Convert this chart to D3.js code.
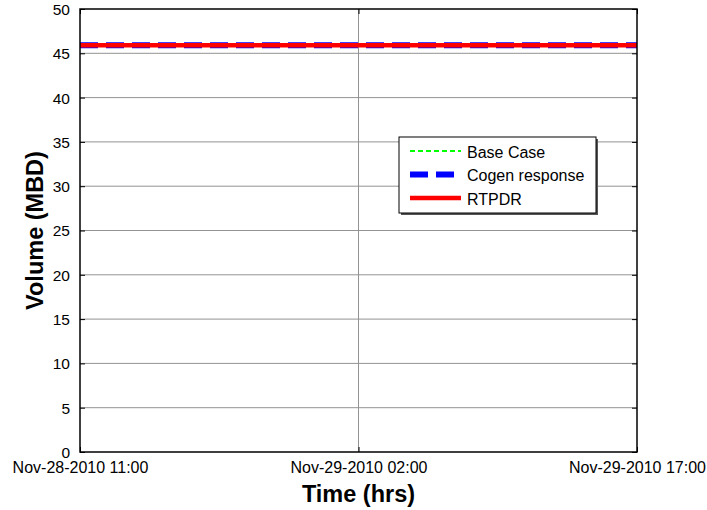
<!DOCTYPE html>
<html>
<head>
<meta charset="utf-8">
<script src="https://cdn.jsdelivr.net/npm/d3@7"></script>
<style>
body { margin: 0; background: #fff; }
svg { font-family: Arial, "Liberation Sans", sans-serif; }
</style>
</head>
<body>
<div id="chart"></div>
<script>
// hourly time stamps, Nov-28-2010 11:00 .. Nov-29-2010 17:00
var times = [
	"2010-11-28 11:00", "2010-11-28 12:00", "2010-11-28 13:00", "2010-11-28 14:00",
	"2010-11-28 15:00", "2010-11-28 16:00", "2010-11-28 17:00", "2010-11-28 18:00",
	"2010-11-28 19:00", "2010-11-28 20:00", "2010-11-28 21:00", "2010-11-28 22:00",
	"2010-11-28 23:00", "2010-11-29 00:00", "2010-11-29 01:00", "2010-11-29 02:00",
	"2010-11-29 03:00", "2010-11-29 04:00", "2010-11-29 05:00", "2010-11-29 06:00",
	"2010-11-29 07:00", "2010-11-29 08:00", "2010-11-29 09:00", "2010-11-29 10:00",
	"2010-11-29 11:00", "2010-11-29 12:00", "2010-11-29 13:00", "2010-11-29 14:00",
	"2010-11-29 15:00", "2010-11-29 16:00", "2010-11-29 17:00"
];

var baseCase = [
	45.9, 45.9, 45.9, 45.9, 45.9, 45.9, 45.9, 45.9, 45.9, 45.9, 45.9,
	45.9, 45.9, 45.9, 45.9, 45.9, 45.9, 45.9, 45.9, 45.9, 45.9, 45.9,
	45.9, 45.9, 45.9, 45.9, 45.9, 45.9, 45.9, 45.9, 45.9
];
var cogenResponse = [
	45.9, 45.9, 45.9, 45.9, 45.9, 45.9, 45.9, 45.9, 45.9, 45.9, 45.9,
	45.9, 45.9, 45.9, 45.9, 45.9, 45.9, 45.9, 45.9, 45.9, 45.9, 45.9,
	45.9, 45.9, 45.9, 45.9, 45.9, 45.9, 45.9, 45.9, 45.9
];
var rtpdr = [
	45.9, 45.9, 45.9, 45.9, 45.9, 45.9, 45.9, 45.9, 45.9, 45.9, 45.9,
	45.9, 45.9, 45.9, 45.9, 45.9, 45.9, 45.9, 45.9, 45.9, 45.9, 45.9,
	45.9, 45.9, 45.9, 45.9, 45.9, 45.9, 45.9, 45.9, 45.9
];

var seriesNames = ["Base Case", "Cogen response", "RTPDR"];
var xTickLabels = ["2010-11-28 11:00", "2010-11-29 02:00", "2010-11-29 17:00"];
var yTicks = [0, 5, 10, 15, 20, 25, 30, 35, 40, 45, 50];

var width = 707, height = 510;
var plot = { left: 80, right: 637, top: 9, bottom: 452 };

var parse = d3.timeParse("%Y-%m-%d %H:%M");
var fmt = d3.timeFormat("%b-%d-%Y %H:%M");

var svg = d3.select("#chart").append("svg")
	.attr("width", width).attr("height", height);

var x = d3.scaleTime()
	.domain([parse(times[0]), parse(times[times.length - 1])])
	.range([plot.left, plot.right]);
var y = d3.scaleLinear().domain([0, 50]).range([plot.bottom, plot.top]);

/* grid */
svg.append("g").selectAll("line").data(yTicks.slice(1, -1)).enter()
	.append("line")
	.attr("x1", plot.left).attr("x2", plot.right)
	.attr("y1", d => y(d)).attr("y2", d => y(d))
	.attr("stroke", "#939393").attr("stroke-width", 1);
svg.append("g").selectAll("line").data(xTickLabels.slice(1, -1)).enter()
	.append("line")
	.attr("x1", d => x(parse(d))).attr("x2", d => x(parse(d)))
	.attr("y1", plot.top).attr("y2", plot.bottom)
	.attr("stroke", "#939393").attr("stroke-width", 1);

/* axes */
var yAxis = d3.axisLeft(y).tickValues(yTicks).tickSize(-5).tickPadding(10);
var yAxisR = d3.axisRight(y).tickValues(yTicks).tickSize(-5).tickFormat("");
var xAxis = d3.axisBottom(x).tickValues(xTickLabels.map(parse)).tickSize(-5)
	.tickPadding(10).tickFormat(fmt);
var xAxisT = d3.axisTop(x).tickValues(xTickLabels.map(parse)).tickSize(-5).tickFormat("");

svg.append("g").attr("transform", "translate(" + plot.left + ",0)").call(yAxis)
	.call(g => g.selectAll("text").attr("font-size", 15.5).attr("fill", "#000").attr("dy", "0.35em"));
svg.append("g").attr("transform", "translate(" + plot.right + ",0)").call(yAxisR);
svg.append("g").attr("transform", "translate(0," + plot.bottom + ")").call(xAxis)
	.call(g => g.selectAll("text").attr("font-size", 16).attr("fill", "#000").attr("dy", "0.71em"));
svg.append("g").attr("transform", "translate(0," + plot.top + ")").call(xAxisT);

svg.selectAll(".domain").attr("stroke", "none");
svg.selectAll(".tick line").attr("stroke", "#000");

/* lines */
var line = d3.line()
	.x((d, i) => x(parse(times[i])))
	.y(d => y(d));

svg.append("path").datum(cogenResponse)
	.attr("d", line).attr("fill", "none")
	.attr("stroke", "#0000ff").attr("stroke-width", 6)
	.attr("stroke-dasharray", "18,8");
svg.append("path").datum(baseCase)
	.attr("d", line).attr("fill", "none")
	.attr("stroke", "#00ff00").attr("stroke-width", 2)
	.attr("stroke-dasharray", "5,3");
svg.append("path").datum(rtpdr)
	.attr("d", line).attr("fill", "none")
	.attr("stroke", "#ff0000").attr("stroke-width", 4.5);

/* box */
svg.append("rect")
	.attr("x", plot.left).attr("y", plot.top)
	.attr("width", plot.right - plot.left).attr("height", plot.bottom - plot.top)
	.attr("fill", "none").attr("stroke", "#000").attr("stroke-width", 1.5);

/* axis titles */
svg.append("text")
	.attr("x", (plot.left + plot.right) / 2).attr("y", 502)
	.attr("text-anchor", "middle")
	.attr("font-size", 23.5).attr("font-weight", "bold")
	.text("Time (hrs)");
svg.append("text")
	.attr("transform", "translate(43," + ((plot.top + plot.bottom) / 2) + ") rotate(-90)")
	.attr("text-anchor", "middle")
	.attr("font-size", 23.5).attr("font-weight", "bold")
	.text("Volume (MBD)");

/* legend */
var lg = svg.append("g").attr("transform", "translate(399,137)");
lg.append("rect").attr("x", 2).attr("y", 2).attr("width", 197).attr("height", 76)
	.attr("fill", "#555");
lg.append("rect").attr("width", 197).attr("height", 76)
	.attr("fill", "#fff").attr("stroke", "#000").attr("stroke-width", 1);

var legStyles = [
	{ color: "#00ff00", w: 2, dash: "5,3" },
	{ color: "#0000ff", w: 6, dash: "18,8" },
	{ color: "#ff0000", w: 4.5, dash: null }
];
seriesNames.forEach(function (name, i) {
	var yy = 14 + i * 23.5;
	lg.append("line")
		.attr("x1", 11).attr("x2", 62).attr("y1", yy).attr("y2", yy)
		.attr("stroke", legStyles[i].color).attr("stroke-width", legStyles[i].w)
		.attr("stroke-dasharray", legStyles[i].dash);
	lg.append("text")
		.attr("x", 68).attr("y", yy + 1).attr("dy", "0.35em")
		.attr("font-size", 16).attr("fill", "#000")
		.text(name);
});
</script>
</body>
</html>
